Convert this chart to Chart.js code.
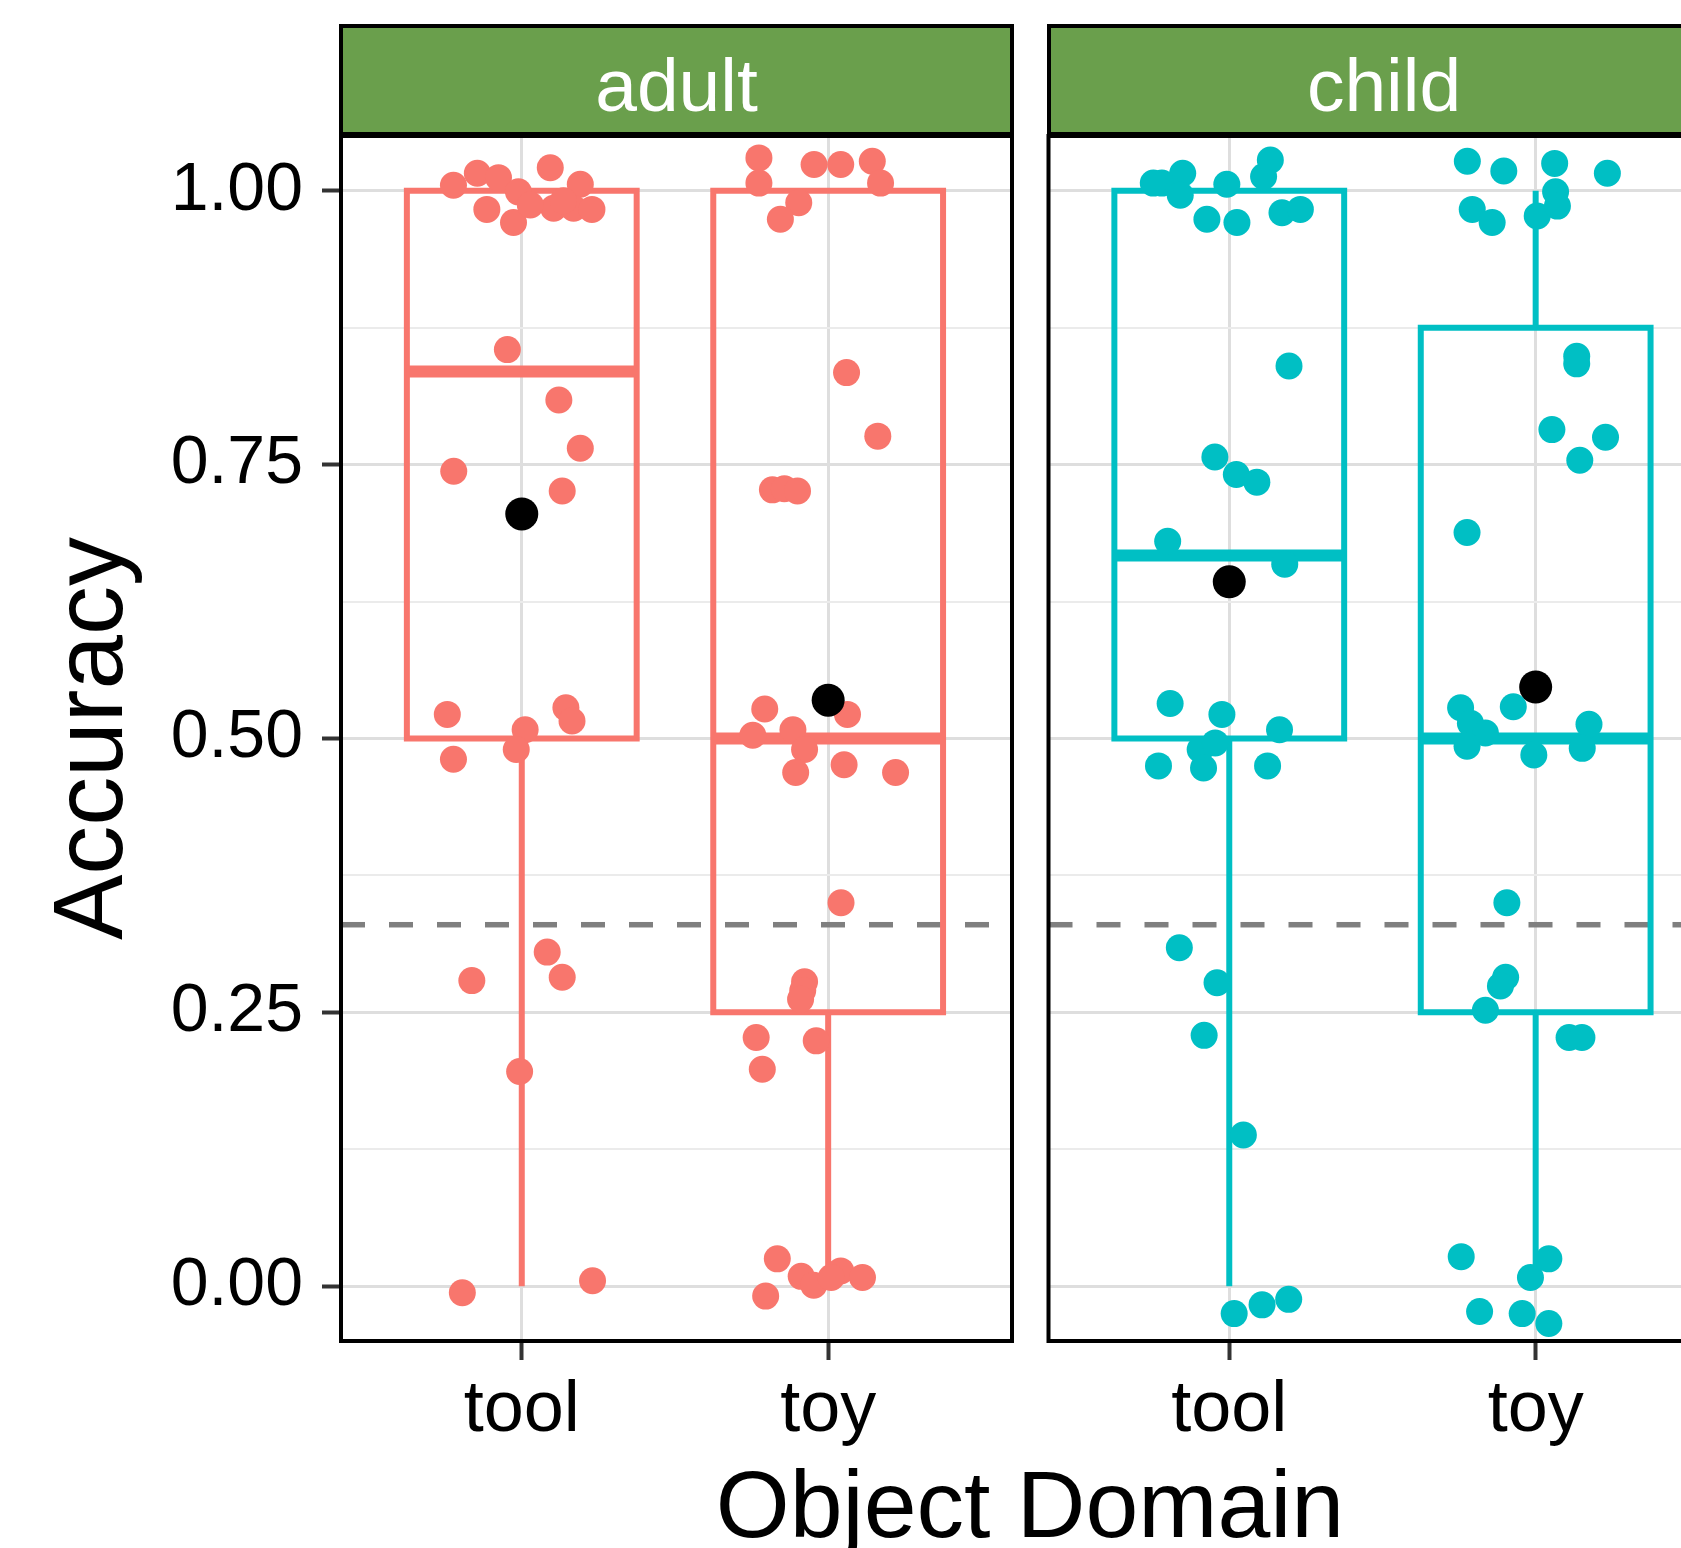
<!DOCTYPE html>
<html>
<head>
<meta charset="utf-8">
<script src="https://cdn.jsdelivr.net/npm/chart.js@4.4.1/dist/chart.umd.min.js"></script>
<style>
  html, body { margin: 0; padding: 0; background: #fff; }
  body { width: 1681px; height: 1548px; overflow: hidden; position: relative; font-family: 'Liberation Sans', Arial, sans-serif; }
  canvas { position: absolute; top: 0; }
  #adultCanvas { left: 0; }
  #childCanvas { left: 1030px; }
  .strip { position: absolute; top: 24px; height: 112px; width: 675px; box-sizing: border-box; border: 4px solid #000; background: #6a9f4c; }
  .strip span { position: absolute; left: 0; right: 0; top: 20px; text-align: center; color: #fff; font-size: 75px; line-height: 75px; }
  #xTitle { position: absolute; left: 0; width: 2060px; top: 1457px; text-align: center; font-size: 95px; line-height: 95px; color: #000; }
</style>
</head>
<body>
<canvas id="adultCanvas" width="1030" height="1548"></canvas>
<canvas id="childCanvas" width="700" height="1548"></canvas>
<div class="strip" id="strip0" style="left:339px"><span></span></div>
<div class="strip" id="strip1" style="left:1046.5px"><span></span></div>
<div id="xTitle">Object Domain</div>
<script>
const categories = ['tool', 'toy'];
const panels = ['adult', 'child'];
const yMajor = [0, 0.25, 0.5, 0.75, 1];
const yMinor = [0.125, 0.375, 0.625, 0.875];
const chance = [0.33];

// jittered participant accuracies: [x position, accuracy]
const adultToolPts = [
	[0.777, 1.005], [0.855, 1.016], [0.924, 1.012], [0.886, 0.983], [0.989, 0.999],
	[0.973, 0.971], [1.093, 1.021], [1.104, 0.984], [1.191, 1.006], [1.169, 0.984],
	[1.229, 0.983], [1.028, 0.987], [1.136, 0.991],
	[0.953, 0.855], [1.121, 0.809], [1.191, 0.765], [0.778, 0.744], [1.132, 0.726],
	[0.757, 0.522], [0.777, 0.481], [1.011, 0.508], [0.982, 0.49], [1.144, 0.528], [1.164, 0.516],
	[0.837, 0.279], [1.083, 0.305], [1.132, 0.282], [0.993, 0.196], [0.806, -0.006], [1.231, 0.005],
];
const adultToyPts = [
	[1.774, 1.03], [1.774, 1.007], [1.954, 1.024], [2.041, 1.024], [2.144, 1.027],
	[2.171, 1.007], [1.904, 0.989], [1.844, 0.974],
	[2.06, 0.834], [2.162, 0.776], [1.818, 0.727], [1.857, 0.728], [1.9, 0.726],
	[1.793, 0.527], [1.754, 0.503], [1.885, 0.508], [1.923, 0.49], [1.894, 0.469],
	[2.052, 0.476], [2.22, 0.469], [2.063, 0.522],
	[2.042, 0.35], [1.923, 0.278], [1.917, 0.27], [1.91, 0.262], [1.765, 0.227], [1.785, 0.198], [1.961, 0.224],
	[1.834, 0.025], [1.796, -0.009], [1.912, 0.009], [1.953, 0.001], [2.041, 0.014], [2.112, 0.008], [2.01, 0.008],
];
const childToolPts = [
	[0.78, 1.007], [0.848, 1.016], [0.84, 0.996], [0.752, 1.007], [0.992, 1.006],
	[0.927, 0.974], [1.025, 0.971], [1.112, 1.013], [1.134, 1.028], [1.172, 0.98], [1.232, 0.983],
	[1.195, 0.84], [0.953, 0.757], [1.023, 0.741], [1.09, 0.734], [0.799, 0.68], [1.181, 0.659],
	[0.807, 0.532], [0.976, 0.522], [1.164, 0.508], [0.769, 0.475], [0.905, 0.49],
	[0.916, 0.473], [0.954, 0.496], [1.125, 0.475],
	[0.837, 0.309], [0.96, 0.277], [0.918, 0.229], [1.046, 0.138],
	[1.016, -0.025], [1.107, -0.017], [1.194, -0.012],
];
const childToyPts = [
	[1.777, 1.027], [1.896, 1.018], [2.062, 1.025], [2.234, 1.016], [1.793, 0.983],
	[1.858, 0.971], [2.065, 0.999], [2.005, 0.977], [2.071, 0.986],
	[2.134, 0.849], [2.134, 0.842], [2.053, 0.782], [2.228, 0.775], [2.144, 0.754], [1.776, 0.688],
	[1.755, 0.528], [1.787, 0.514], [1.836, 0.505], [1.776, 0.493], [1.927, 0.529],
	[1.994, 0.485], [2.174, 0.513], [2.152, 0.491],
	[1.906, 0.35], [1.902, 0.282], [1.885, 0.274], [1.836, 0.252], [2.109, 0.227], [2.151, 0.227],
	[1.757, 0.027], [1.817, -0.023], [1.956, -0.025], [1.983, 0.008], [2.043, 0.025], [2.043, -0.034],
];

// box summaries per category (tool, toy)
const adultLow = [0, 0];
const adultQ1 = [0.5, 0.25];
const adultMedian = [0.835, 0.5];
const adultQ3 = [1, 1];
const adultHigh = [1, 1];
const adultMean = [0.705, 0.535];

const childLow = [0, 0];
const childQ1 = [0.5, 0.25];
const childMedian = [0.667, 0.5];
const childQ3 = [1, 0.875];
const childHigh = [1, 1];
const childMean = [0.643, 0.547];

const colors = { adult: '#F8766D', child: '#00BFC4' };
const BOX_HALF = 0.375;
const X_MIN = 0.41, X_MAX = 2.6;

Chart.defaults.font.family = "'Liberation Sans', Arial, sans-serif";

panels.forEach((p, i) => {
	document.querySelector('#strip' + i + ' span').textContent = p;
});

function boxOutline(q1, q3) {
	const pts = [];
	q1.forEach((lo, i) => {
		const x = i + 1, hi = q3[i];
		pts.push(
			{ x: x - BOX_HALF, y: lo }, { x: x + BOX_HALF, y: lo },
			{ x: x + BOX_HALF, y: hi }, { x: x - BOX_HALF, y: hi },
			{ x: x - BOX_HALF, y: lo }, { x: x + BOX_HALF, y: lo },
			{ x: x, y: null },
		);
	});
	return pts;
}

function medianSegs(med) {
	const pts = [];
	med.forEach((m, i) => {
		pts.push({ x: i + 1 - BOX_HALF, y: m }, { x: i + 1 + BOX_HALF, y: m }, { x: i + 1, y: null });
	});
	return pts;
}

function whiskerSegs(low, q1, q3, high) {
	const pts = [];
	q1.forEach((v, i) => {
		const x = i + 1;
		if (low[i] < v) pts.push({ x, y: v }, { x, y: low[i] }, { x, y: null });
		if (high[i] > q3[i]) pts.push({ x, y: q3[i] }, { x, y: high[i] }, { x, y: null });
	});
	return pts;
}

const toXY = (arr) => arr.map(([x, y]) => ({ x, y }));

const panelBorder = {
	id: 'panelBorder',
	afterDatasetsDraw(chart) {
		const { ctx, chartArea: a } = chart;
		ctx.save();
		ctx.strokeStyle = '#000';
		ctx.lineWidth = 4;
		ctx.strokeRect(a.left, a.top, a.right - a.left, a.bottom - a.top);
		ctx.restore();
	},
};

const isMinor = (v) => yMinor.includes(v);

function makePanel(canvasId, color, s, showY, yAxisWidth, padRight) {
	const lineBase = { type: 'line', pointRadius: 0, fill: false, tension: 0, spanGaps: false, borderJoinStyle: 'miter', borderCapStyle: 'butt' };
	return new Chart(document.getElementById(canvasId), {
		type: 'scatter',
		data: {
			datasets: [
				{ ...lineBase, data: [{ x: X_MIN, y: chance[0] }, { x: X_MAX, y: chance[0] }], borderColor: '#7f7f7f', borderWidth: 5.5, borderDash: [24, 24], order: 6 },
				{ ...lineBase, data: boxOutline(s.q1, s.q3), borderColor: color, borderWidth: 6, order: 5 },
				{ ...lineBase, data: whiskerSegs(s.low, s.q1, s.q3, s.high), borderColor: color, borderWidth: 6, order: 4 },
				{ ...lineBase, data: medianSegs(s.median), borderColor: color, borderWidth: 12, order: 4 },
				{ data: toXY(s.tool), pointRadius: 13.5, pointBackgroundColor: color, pointBorderWidth: 0, order: 2 },
				{ data: toXY(s.toy), pointRadius: 13.5, pointBackgroundColor: color, pointBorderWidth: 0, order: 2 },
				{ data: s.mean.map((m, i) => ({ x: i + 1, y: m })), pointRadius: 16.5, pointBackgroundColor: '#000', pointBorderWidth: 0, order: 1 },
			],
		},
		options: {
			responsive: false,
			animation: false,
			devicePixelRatio: 1,
			events: [],
			layout: { autoPadding: false, padding: { left: 0, right: padRight, top: 136, bottom: 0 } },
			plugins: { legend: { display: false }, tooltip: { enabled: false } },
			scales: {
				x: {
					type: 'linear',
					min: X_MIN,
					max: X_MAX,
					offset: false,
					afterBuildTicks: (sc) => { sc.ticks = categories.map((c, i) => ({ value: i + 1 })); },
					afterFit: (sc) => { sc.height = 207; },
					ticks: { callback: (v, i) => categories[i], font: { size: 72 }, color: '#000', padding: 8, maxRotation: 0, autoSkip: false },
					grid: { color: '#dedede', lineWidth: 3, tickColor: '#333', tickLength: 19, tickWidth: 4, offset: false },
					border: { display: false },
				},
				y: {
					type: 'linear',
					min: -0.05,
					max: 1.05,
					afterBuildTicks: (sc) => { sc.ticks = yMajor.concat(yMinor).sort((a, b) => a - b).map((v) => ({ value: v })); },
					afterFit: (sc) => { sc.width = yAxisWidth; },
					ticks: { display: showY, callback: (v) => (yMajor.includes(v) ? v.toFixed(2) : ''), font: { size: 68 }, color: '#000', padding: 19, autoSkip: false },
					grid: {
						color: (c) => (c.tick && isMinor(c.tick.value) ? '#ebebeb' : '#dedede'),
						lineWidth: (c) => (c.tick && isMinor(c.tick.value) ? 2 : 3),
						tickColor: (c) => (!showY || (c.tick && isMinor(c.tick.value)) ? 'rgba(0,0,0,0)' : '#333'),
						tickLength: 19,
						tickWidth: 4,
						drawTicks: showY,
					},
					border: { display: false },
					title: { display: showY, text: 'Accuracy', font: { size: 98 }, color: '#000', padding: { top: 36, bottom: 0 } },
				},
			},
		},
		plugins: [panelBorder],
	});
}

makePanel('adultCanvas', colors.adult, {
	tool: adultToolPts, toy: adultToyPts, low: adultLow, q1: adultQ1, median: adultMedian,
	q3: adultQ3, high: adultHigh, mean: adultMean,
}, true, 341, 18);

makePanel('childCanvas', colors.child, {
	tool: childToolPts, toy: childToyPts, low: childLow, q1: childQ1, median: childMedian,
	q3: childQ3, high: childHigh, mean: childMean,
}, false, 18.5, 10.5);
</script>
</body>
</html>
